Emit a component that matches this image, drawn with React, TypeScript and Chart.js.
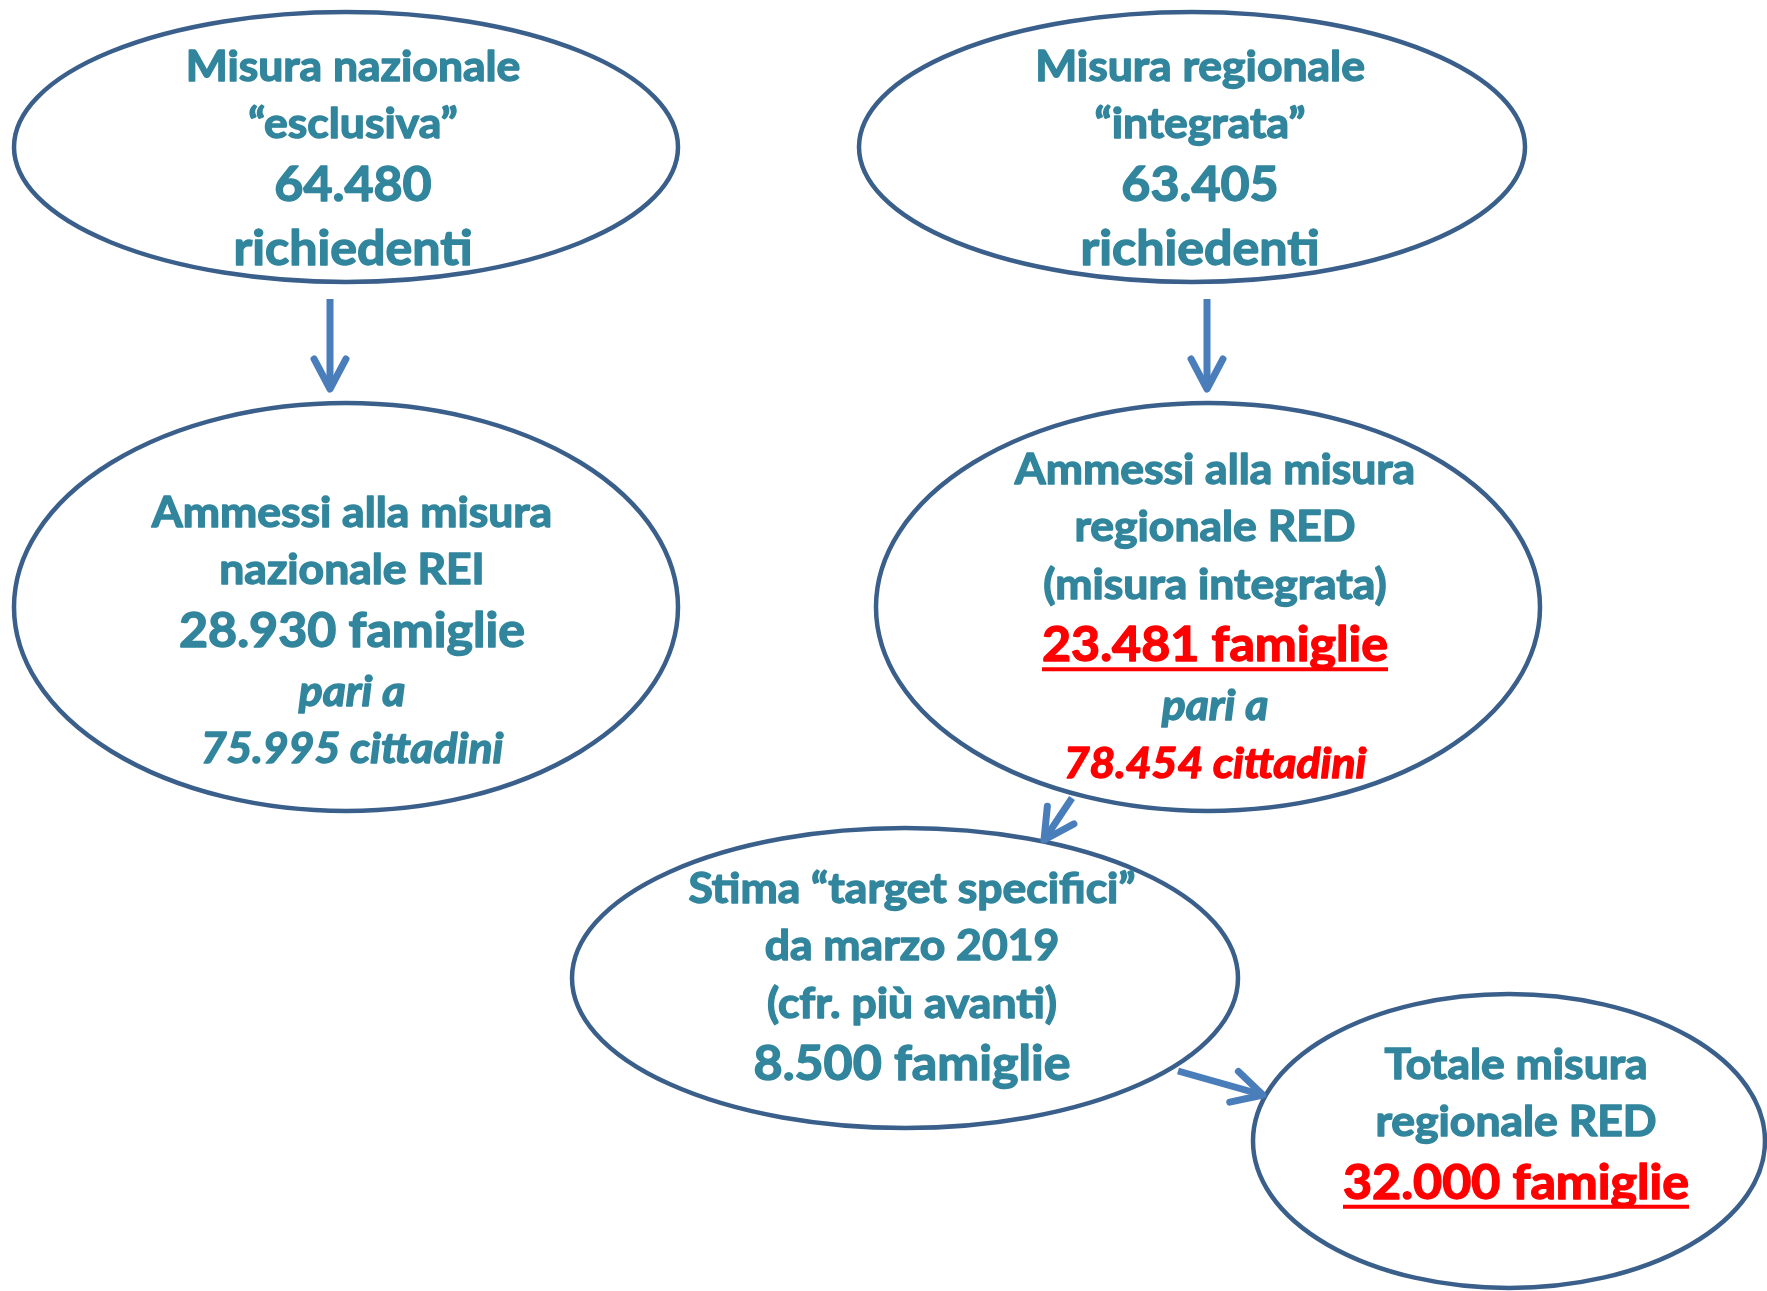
import React, { useEffect, useRef } from 'react';
import { Chart, registerables } from 'chart.js';

Chart.register(...registerables);

const W = 1767;
const H = 1291;

// Nodes (diagram coordinates: x 0–1767 left→right, y 0–1291 top→bottom)
const nodeCenterX = [346, 1192, 346, 1208, 905, 1509];
const nodeCenterY = [147, 147, 607, 607, 978, 1141];
const nodeRadiusX = [332, 333, 332, 332, 333, 256];
const nodeRadiusY = [135, 135, 204, 204, 150, 147];

const nodeTextX = [353, 1200, 352, 1215, 912, 1516];
const nodeTextY = [66, 66, 512, 469, 888, 1064];

const nodeLines = [
  ['Misura nazionale', '“esclusiva”', '64.480', 'richiedenti'],
  ['Misura regionale', '“integrata”', '63.405', 'richiedenti'],
  ['Ammessi alla misura', 'nazionale REI', '28.930 famiglie', 'pari a', '75.995 cittadini'],
  ['Ammessi alla misura', 'regionale RED', '(misura integrata)', '23.481 famiglie', 'pari a', '78.454 cittadini'],
  ['Stima “target specifici”', 'da marzo 2019', '(cfr. più avanti)', '8.500 famiglie'],
  ['Totale misura', 'regionale RED', '32.000 famiglie'],
];
// t = text, b = big text, i = italic, R = red big underlined, r = red italic
const nodeLineKinds = [
  ['t', 't', 'b', 'b'],
  ['t', 't', 'b', 'b'],
  ['t', 't', 'b', 'i', 'i'],
  ['t', 't', 't', 'R', 'i', 'r'],
  ['t', 't', 't', 'b'],
  ['t', 't', 'R'],
];

// Arrows (from → to, tip at "to")
const arrowFromX = [330, 1207, 1072, 1178];
const arrowFromY = [299, 299, 798, 1071];
const arrowToX = [330, 1207, 1044, 1263];
const arrowToY = [389, 389, 840, 1095];

const TEAL = '#31859C';
const RED = '#FF0000';
const OUTLINE = '#3A5F8B';
const ARROW = '#4A7EBB';
const FAMILY = '"Lato", "Open Sans", sans-serif';

export default function App() {
  const ref = useRef<HTMLCanvasElement>(null);

  useEffect(() => {
    document.body.style.margin = '0';
    const canvas = ref.current;
    if (!canvas) return;

    const diagramPlugin = {
      id: 'diagram',
      beforeDatasetsDraw(chart: any) {
        const { ctx } = chart;
        const xs = chart.scales.x;
        const ys = chart.scales.y;
        ctx.save();
        ctx.lineWidth = 4.5;
        ctx.strokeStyle = OUTLINE;
        for (let i = 0; i < nodeCenterX.length; i++) {
          const cx = xs.getPixelForValue(nodeCenterX[i]);
          const cy = ys.getPixelForValue(nodeCenterY[i]);
          const rx = Math.abs(xs.getPixelForValue(nodeCenterX[i] + nodeRadiusX[i]) - cx);
          const ry = Math.abs(ys.getPixelForValue(nodeCenterY[i] + nodeRadiusY[i]) - cy);
          ctx.beginPath();
          ctx.ellipse(cx, cy, rx, ry, 0, 0, Math.PI * 2);
          ctx.stroke();
        }
        ctx.restore();
      },
      afterDatasetsDraw(chart: any) {
        const { ctx } = chart;
        const xs = chart.scales.x;
        const ys = chart.scales.y;
        // arrow heads
        ctx.save();
        ctx.strokeStyle = ARROW;
        ctx.lineWidth = 7;
        ctx.lineCap = 'round';
        ctx.lineJoin = 'round';
        chart.data.datasets.forEach((_: any, di: number) => {
          const meta = chart.getDatasetMeta(di);
          const p0 = meta.data[0];
          const p1 = meta.data[1];
          const ang = Math.atan2(p1.y - p0.y, p1.x - p0.x);
          const L = 34;
          const a = (28 * Math.PI) / 180;
          ctx.beginPath();
          ctx.moveTo(p1.x - L * Math.cos(ang - a), p1.y - L * Math.sin(ang - a));
          ctx.lineTo(p1.x, p1.y);
          ctx.lineTo(p1.x - L * Math.cos(ang + a), p1.y - L * Math.sin(ang + a));
          ctx.stroke();
        });
        ctx.restore();

        // text calibration to Calibri-like proportions
        ctx.save();
        ctx.font = `bold 90px ${FAMILY}`;
        const wRef = ctx.measureText('Misura nazionale').width;
        const sx = wRef > 0 ? 712.1 / wRef : 1;
        ctx.restore();

        const sizeOf = (k: string) => (k === 't' || k === 'i' || k === 'r' ? 47 : 53);
        const adv = (k: string) => (k === 't' || k === 'i' || k === 'r' ? 57.5 : 64);

        for (let n = 0; n < nodeLines.length; n++) {
          let yv = nodeTextY[n];
          const lines = nodeLines[n];
          const kinds = nodeLineKinds[n];
          for (let l = 0; l < lines.length; l++) {
            const k = kinds[l];
            if (l > 0) yv += (adv(kinds[l - 1]) + adv(k)) / 2;
            const size = sizeOf(k);
            const italic = k === 'i' || k === 'r';
            const color = k === 'R' || k === 'r' ? RED : TEAL;
            const px = xs.getPixelForValue(nodeTextX[n]);
            const py = ys.getPixelForValue(yv);
            const baseline = py + size * 0.31;
            ctx.save();
            ctx.font = `${italic ? 'italic ' : ''}bold ${size * 0.9}px ${FAMILY}`;
            ctx.fillStyle = color;
            ctx.strokeStyle = color;
            ctx.lineWidth = 1.4;
            ctx.lineJoin = 'round';
            ctx.textAlign = 'center';
            ctx.textBaseline = 'alphabetic';
            const w = ctx.measureText(lines[l]).width * sx;
            ctx.translate(px, baseline);
            ctx.scale(sx, 1);
            ctx.fillText(lines[l], 0, 0);
            ctx.strokeText(lines[l], 0, 0);
            ctx.restore();
            if (k === 'R') {
              ctx.save();
              ctx.strokeStyle = RED;
              ctx.lineWidth = 4;
              ctx.beginPath();
              ctx.moveTo(px - w / 2, baseline + 8);
              ctx.lineTo(px + w / 2, baseline + 8);
              ctx.stroke();
              ctx.restore();
            }
          }
        }
      },
    };

    const datasets = arrowFromX.map((_, i) => ({
      label: `arrow${i}`,
      data: [
        { x: arrowFromX[i], y: arrowFromY[i] },
        { x: arrowToX[i], y: arrowToY[i] },
      ],
      showLine: true,
      borderColor: ARROW,
      backgroundColor: ARROW,
      borderWidth: 7,
      pointRadius: 0,
      pointHoverRadius: 0,
      borderCapStyle: 'butt',
      fill: false,
    }));

    const chart = new Chart(canvas, {
      type: 'scatter',
      data: { datasets: datasets as any },
      options: {
        responsive: false,
        animation: false,
        devicePixelRatio: 1,
        layout: { padding: 0 },
        events: [],
        plugins: { legend: { display: false }, tooltip: { enabled: false }, title: { display: false } },
        scales: {
          x: { type: 'linear', min: 0, max: W, display: false },
          y: { type: 'linear', min: 0, max: H, reverse: true, display: false },
        },
      },
      plugins: [diagramPlugin],
    });

    return () => chart.destroy();
  }, []);

  return (
    <div style={{ position: 'absolute', left: 0, top: 0, width: W, height: H, background: '#fff' }}>
      <canvas ref={ref} width={W} height={H} style={{ display: 'block', width: W, height: H }} />
    </div>
  );
}
